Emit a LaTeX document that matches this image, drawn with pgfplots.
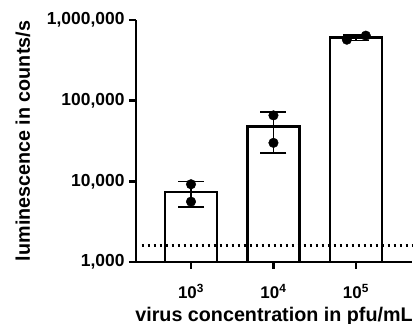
\documentclass[border=0pt]{standalone}
\usepackage{fontspec}
\setmainfont{Liberation Sans}
\usepackage{pgfplots}
\pgfplotsset{compat=1.18}
\begin{document}
\begin{tikzpicture}
\begin{axis}[
  at={(0,0)}, anchor=south west,
  scale only axis, width=276bp, height=242bp,
  ymode=log, ymin=1000, ymax=1000000, log origin=infty,
  xmin=-0.667, xmax=2.68,
  axis x line*=bottom, axis y line*=left,
  axis line style={line width=2.6bp, black},
  xtick={0,1,2},
  xticklabels={10\textsuperscript{3},10\textsuperscript{4},10\textsuperscript{5}},
  ytick={1000,10000,100000,1000000},
  yticklabels={{1,000},{10,000},{100,000},{1,000,000}},
  yminorticks=false,
  tick style={line width=2.6bp, black},
  major tick length=7bp, tick align=outside,
  ticklabel style={font=\bfseries\fontsize{17.5}{17.5}\selectfont},
  yticklabel style={xshift=-1bp},
  xticklabel style={anchor=base, yshift=-30bp, font=\bfseries\fontsize{17}{17}\selectfont},
  label style={font=\bfseries\fontsize{19.8}{21}\selectfont},
  xlabel={virus concentration in pfu/mL},
  ylabel={luminescence in counts/s},
  xlabel style={at={(axis description cs:0.5,-0.245)}, anchor=base},
  ylabel style={at={(axis description cs:-0.41,0.5)}, anchor=center},
  clip=false,
]
\addplot[ybar, bar width=0.63, fill=white, draw=black, line width=2.6bp]
  coordinates {(0,7400) (1,47850) (2,605000)};
\addplot[black, line width=2.2bp, dash pattern=on 2.2bp off 3.8bp]
  coordinates {(-0.6,1600) (2.68,1600)};
\addplot[draw=none, mark=none, error bars/.cd, y dir=both, y explicit,
  error bar style={line width=1.8bp, black},
  error mark options={rotate=90, mark size=13bp, line width=1.8bp, black}]
  coordinates {(0,7400) +- (0,2546) (1,47850) +- (0,25240) (2,605000) +- (0,49500)};
\addplot[only marks, mark=*, mark size=4.8bp, black]
  coordinates {(0,9200) (0,5600) (1,65700) (1,30000) (1.89,570000) (2.12,640000)};
\end{axis}
\pgfresetboundingbox
\path (-136bp,-62bp) rectangle (278bp,262bp);
\end{tikzpicture}
\end{document}
